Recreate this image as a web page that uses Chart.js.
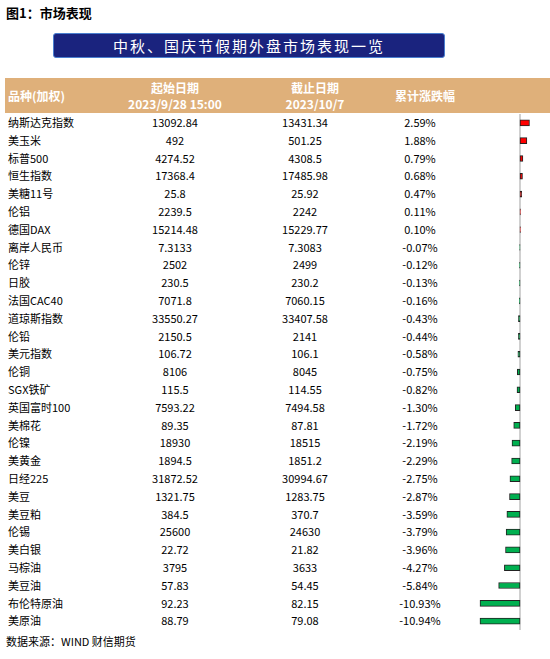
<!DOCTYPE html>
<html><head><meta charset="utf-8">
<script src="https://cdn.jsdelivr.net/npm/chart.js@4.4.0/dist/chart.umd.min.js"></script>
<style>
body{margin:0;width:550px;height:659px;background:#fff;font-family:"Noto Sans CJK SC",sans-serif;position:relative;overflow:hidden}
#title{position:absolute;left:6px;top:3px;font-size:13px;font-weight:bold}
#banner{position:absolute;left:53px;top:33px;width:390px;height:23px;background:#1a237e;border:1px solid #4a7fd0;border-radius:3px;color:#fff;font-size:15px;text-align:center;line-height:23px;letter-spacing:2px}
#head{position:absolute;left:5px;top:78px;width:545px;height:35px;background:#dfb07a;color:#fff;font-size:12px;font-weight:bold}
#head div{position:absolute;text-align:center;line-height:16px}
#rows{position:absolute;left:0;top:114px;width:550px;font-size:11px}
.r{height:17.8px;line-height:17.8px;position:relative}
.r span{position:absolute}
#wrap{position:absolute;left:462px;top:114px;width:86px;height:516px}
#src{position:absolute;left:6px;top:633px;font-size:11px}
</style></head><body>
<div id="title">图1：市场表现</div>
<div id="banner">中秋、国庆节假期外盘市场表现一览</div>
<div id="head">
<div style="left:3px;top:10px;text-align:left">品种(加权)</div>
<div style="left:100px;width:140px;top:2px">起始日期<br>2023/9/28 15:00</div>
<div style="left:240px;width:140px;top:2px">截止日期<br>2023/10/7</div>
<div style="left:370px;width:100px;top:10px">累计涨跌幅</div>
</div>
<div id="rows"></div>
<div id="wrap"><canvas id="c"></canvas></div>
<div id="src">数据来源：WIND 财信期货</div>
<script>
const names=['纳斯达克指数','美玉米','标普500','恒生指数','美糖11号','伦铝','德国DAX','离岸人民币','伦锌','日胶','法国CAC40','道琼斯指数','伦铅','美元指数','伦铜','SGX铁矿','英国富时100','美棉花','伦镍','美黄金','日经225','美豆','美豆粕','伦锡','美白银','马棕油','美豆油','布伦特原油','美原油'];
const startVals=['13092.84','492','4274.52','17368.4','25.8','2239.5','15214.48','7.3133','2502','230.5','7071.8','33550.27','2150.5','106.72','8106','115.5','7593.22','89.35','18930','1894.5','31872.52','1321.75','384.5','25600','22.72','3795','57.83','92.23','88.79'];
const endVals=['13431.34','501.25','4308.5','17485.98','25.92','2242','15229.77','7.3083','2499','230.2','7060.15','33407.58','2141','106.1','8045','114.55','7494.58','87.81','18515','1851.2','30994.67','1283.75','370.7','24630','21.82','3633','54.45','82.15','79.08'];
const changes=[2.59,1.88,0.79,0.68,0.47,0.11,0.10,-0.07,-0.12,-0.13,-0.16,-0.43,-0.44,-0.58,-0.75,-0.82,-1.30,-1.72,-2.19,-2.29,-2.75,-2.87,-3.59,-3.79,-3.96,-4.27,-5.84,-10.93,-10.94];

let html='';
names.forEach((n,i)=>{
  html+=`<div class="r"><span style="left:8px">${n}</span>
  <span style="left:100px;width:150px;text-align:center">${startVals[i]}</span>
  <span style="left:230px;width:150px;text-align:center">${endVals[i]}</span>
  <span style="left:370px;width:100px;text-align:center">${changes[i].toFixed(2)}%</span></div>`;
});
document.getElementById('rows').innerHTML=html;

const zeroLine={id:'zeroLine',beforeDatasetsDraw(ch){
  const x=ch.scales.x.getPixelForValue(0),c=ch.ctx;
  c.save();c.strokeStyle='#d0d0d0';c.lineWidth=2;
  c.beginPath();c.moveTo(x,ch.chartArea.top);c.lineTo(x,ch.chartArea.bottom);c.stroke();c.restore();
}};
new Chart(document.getElementById('c'),{
  type:'bar',
  data:{labels:names,datasets:[{data:changes,
    backgroundColor:changes.map(v=>v>=0?'#ff0000':'#00b050'),
    borderColor:'#222',borderWidth:1,borderSkipped:false,barThickness:6}]},
  options:{indexAxis:'y',responsive:true,maintainAspectRatio:false,animation:false,
    layout:{padding:0},
    plugins:{legend:{display:false},tooltip:{enabled:false}},
    scales:{x:{display:false,min:-15.85,max:7.65},y:{display:false}}},
  plugins:[zeroLine]
});
</script>
</body></html>
